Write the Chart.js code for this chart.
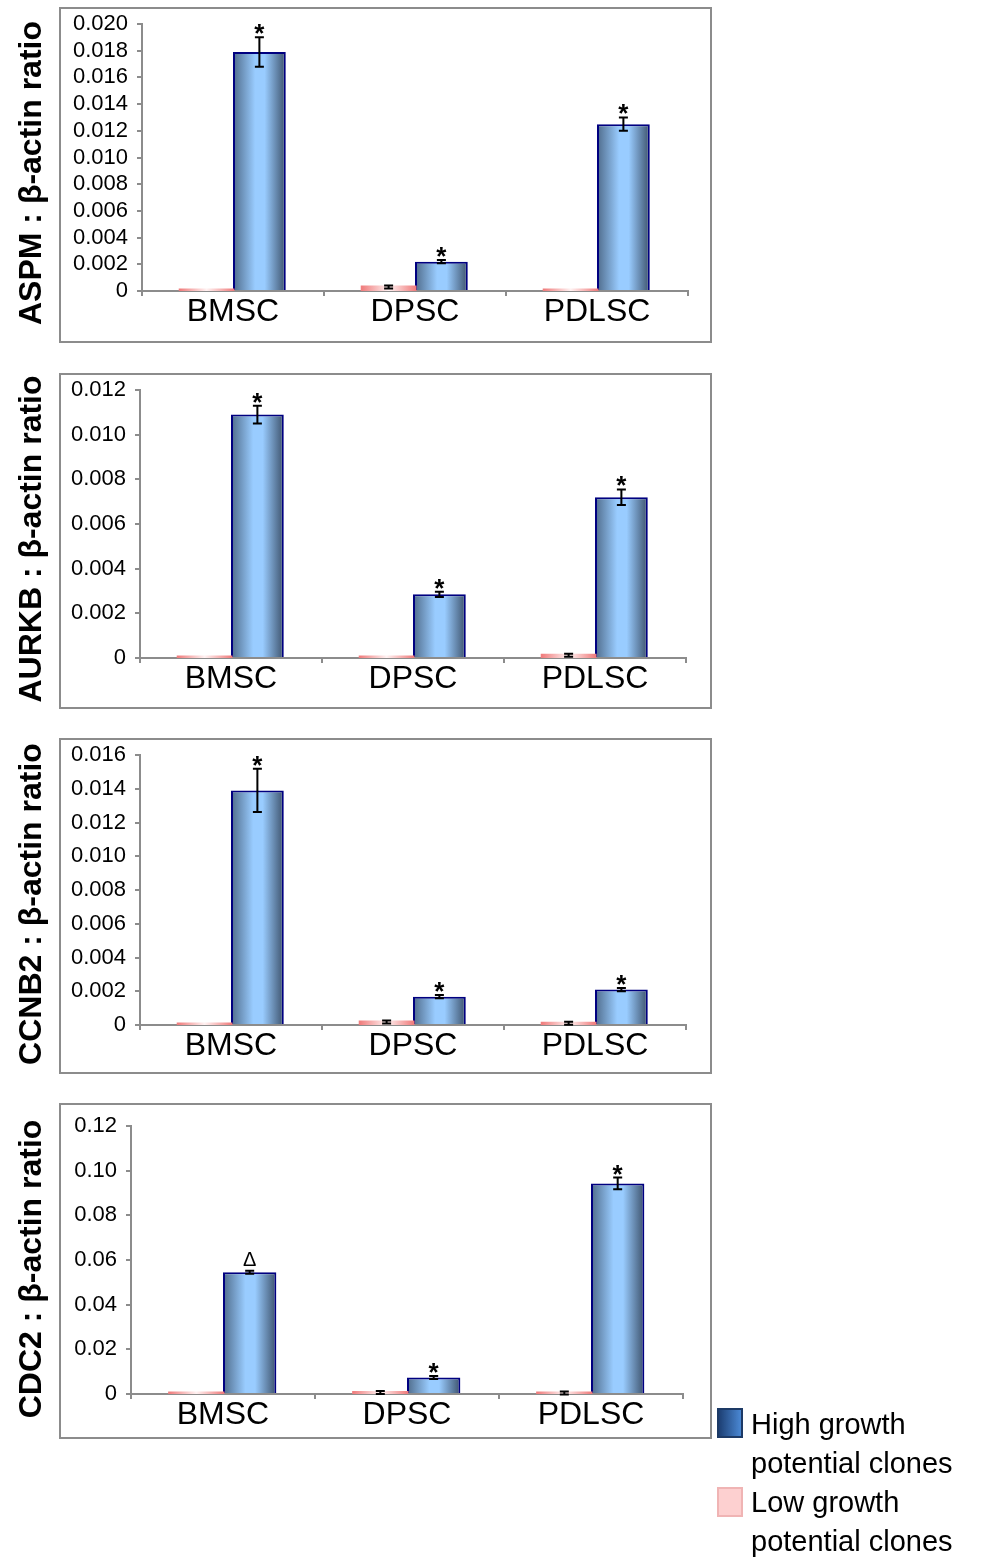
<!DOCTYPE html>
<html>
<head>
<meta charset="utf-8">
<script src="https://cdn.jsdelivr.net/npm/chart.js@4.4.1/dist/chart.umd.min.js"></script>
<style>
  body { margin: 0; background: #fff; width: 990px; height: 1559px; position: relative; font-family: "Liberation Sans", Arial, sans-serif; }
  .panel { position: absolute; left: 0; width: 720px; height: 350px; }
  .legend { position: absolute; left: 717px; top: 1405px; font-size: 29px; line-height: 39px; color: #000; }
  .legend .item { position: relative; padding-left: 34px; }
  .legend .sw { position: absolute; left: 0; width: 22px; height: 26px; }
</style>
</head>
<body>
<div class="panel" style="top:0px"><canvas id="c1" width="720" height="350"></canvas></div>
<div class="panel" style="top:366px"><canvas id="c2" width="720" height="350"></canvas></div>
<div class="panel" style="top:731px"><canvas id="c3" width="720" height="350"></canvas></div>
<div class="panel" style="top:1096px"><canvas id="c4" width="720" height="350"></canvas></div>

<div class="legend">
  <div class="item"><span class="sw" style="top:3px;background:linear-gradient(90deg,#1d3f73,#4a88d4);border:2px solid #1d3a66;"></span>High growth<br>potential clones</div>
  <div class="item"><span class="sw" style="top:4px;background:#fdd0d0;border:2px solid #f0b4b4;"></span>Low growth<br>potential clones</div>
</div>

<script>
var categories = ["BMSC", "DPSC", "PDLSC"];
var seriesNames = ["Low growth potential clones", "High growth potential clones"];

// ASPM
var aspmLow = [0.00005, 0.0003, 0.00005];
var aspmLowErr = [0, 0.00002, 0];
var aspmHigh = [0.0179, 0.0022, 0.0125];
var aspmHighErr = [0.0011, 0.00012, 0.0005];
var aspmTicks = ["0", "0.002", "0.004", "0.006", "0.008", "0.010", "0.012", "0.014", "0.016", "0.018", "0.020"];

// AURKB
var aurkbLow = [0.00002, 0.00002, 0.00012];
var aurkbLowErr = [0, 0, 0.00003];
var aurkbHigh = [0.0109, 0.00285, 0.0072];
var aurkbHighErr = [0.0004, 0.00012, 0.00035];
var aurkbTicks = ["0", "0.002", "0.004", "0.006", "0.008", "0.010", "0.012"];

// CCNB2
var ccnb2Low = [0.00004, 0.00018, 0.0001];
var ccnb2LowErr = [0, 0.00003, 0.00002];
var ccnb2High = [0.0139, 0.00168, 0.0021];
var ccnb2HighErr = [0.00128, 0.0001, 0.0001];
var ccnb2Ticks = ["0", "0.002", "0.004", "0.006", "0.008", "0.010", "0.012", "0.014", "0.016"];

// CDC2
var cdc2Low = [0.0002, 0.0007, 0.0004];
var cdc2LowErr = [0, 0.0002, 0.0001];
var cdc2High = [0.0545, 0.0074, 0.0943];
var cdc2HighErr = [0.0004, 0.0003, 0.0026];
var cdc2Ticks = ["0", "0.02", "0.04", "0.06", "0.08", "0.10", "0.12"];

var sigMarks = ["*", "*", "*"];
var cdc2Marks = ["\u0394", "*", "*"];

var catPct = 0.58;

function barGradient(ctx, isHigh) {
  var chart = ctx.chart;
  var x = chart.scales.x;
  if (!x || !chart.chartArea) return isHigh ? "#99ccff" : "#f9b0b0";
  var center = x.getPixelForValue(ctx.dataIndex);
  var bw = (x.width / categories.length) * catPct / 2;
  var x0 = isHigh ? center : center - bw;
  var g = chart.ctx.createLinearGradient(x0, 0, x0 + bw, 0);
  if (isHigh) {
    g.addColorStop(0, "#4f6b8a");
    g.addColorStop(0.42, "#99ccff");
    g.addColorStop(0.6, "#99ccff");
    g.addColorStop(1, "#3d526c");
  } else {
    g.addColorStop(0, "#f07f7f");
    g.addColorStop(0.5, "#fff2f2");
    g.addColorStop(1, "#f07f7f");
  }
  return g;
}

var boxPlugin = {
  id: "box",
  beforeDraw: function (chart) {
    var c = chart.ctx;
    c.save();
    c.strokeStyle = "#8c8c8c";
    c.lineWidth = 2;
    c.strokeRect(60, 8, 651, 334);
    // y axis title
    c.translate(41, 173);
    c.rotate(-Math.PI / 2);
    c.fillStyle = "#000";
    c.font = "bold 32px 'Liberation Sans', Arial, sans-serif";
    c.textAlign = "center";
    c.textBaseline = "alphabetic";
    c.fillText(chart.options.plugins.box.title, 0, 0);
    c.restore();
  }
};

var errPlugin = {
  id: "errbars",
  afterDatasetsDraw: function (chart) {
    var c = chart.ctx;
    var y = chart.scales.y;
    var opts = chart.options.plugins.errbars;
    c.save();
    c.strokeStyle = "#000";
    c.lineWidth = 2;
    chart.data.datasets.forEach(function (ds, di) {
      var meta = chart.getDatasetMeta(di);
      meta.data.forEach(function (bar, i) {
        var e = ds.err[i];
        var v = ds.data[i];
        var top = y.getPixelForValue(v + e);
        var bot = y.getPixelForValue(Math.max(v - e, 0));
        if (e > 0) {
          if (bot - top < 3) { var mid = (top + bot) / 2; top = mid - 1.5; bot = mid + 1.5; }
          c.beginPath();
          c.moveTo(bar.x, top); c.lineTo(bar.x, bot);
          c.moveTo(bar.x - 4.5, top); c.lineTo(bar.x + 4.5, top);
          c.moveTo(bar.x - 4.5, bot); c.lineTo(bar.x + 4.5, bot);
          c.stroke();
        }
        if (di === 1) {
          var m = opts.marks[i];
          c.fillStyle = "#000";
          c.textAlign = "center";
          c.textBaseline = "alphabetic";
          if (m === "*") {
            c.font = "bold 26px 'Liberation Sans', Arial, sans-serif";
            c.fillText(m, bar.x, top + 5);
          } else {
            c.font = "20px 'Liberation Sans', Arial, sans-serif";
            c.fillText(m, bar.x, top - 5);
          }
        }
      });
    });
    c.restore();
  }
};

function makeChart(id, title, low, lowErr, high, highErr, ticks, maxV, step, marks, geo) {
  return new Chart(document.getElementById(id), {
    type: "bar",
    data: {
      labels: categories,
      datasets: [
        {
          label: seriesNames[0],
          data: low,
          err: lowErr,
          backgroundColor: function (ctx) { return barGradient(ctx, false); },
          borderColor: "#f39a9a",
          borderWidth: 0,
          inflateAmount: 1.5,
          categoryPercentage: catPct,
          barPercentage: 1
        },
        {
          label: seriesNames[1],
          data: high,
          err: highErr,
          backgroundColor: function (ctx) { return barGradient(ctx, true); },
          borderColor: "#000080",
          borderWidth: 2,
          categoryPercentage: catPct,
          barPercentage: 1
        }
      ]
    },
    options: {
      responsive: false,
      animation: false,
      layout: { padding: { top: geo.top, right: 720 - geo.right, bottom: 0, left: 0 } },
      plugins: {
        legend: { display: false },
        tooltip: { enabled: false },
        box: { title: title },
        errbars: { marks: marks }
      },
      scales: {
        x: {
          grid: { drawOnChartArea: false, drawTicks: true, tickLength: 5, color: "#8c8c8c", lineWidth: 2 },
          border: { color: "#8c8c8c", width: 2 },
          ticks: { color: "#000", padding: 0, font: { family: "'Liberation Sans', Arial, sans-serif", size: 32, lineHeight: 1 } },
          afterFit: function (s) { s.height = 350 - geo.bottom; }
        },
        y: {
          min: 0,
          max: maxV,
          grid: { drawOnChartArea: false, drawTicks: true, tickLength: 5, color: "#8c8c8c", lineWidth: 2 },
          border: { color: "#8c8c8c", width: 2 },
          ticks: {
            stepSize: step,
            autoSkip: false,
            color: "#000",
            padding: 9,
            font: { family: "'Liberation Sans', Arial, sans-serif", size: 22 },
            callback: function (v, i) { return ticks[i]; }
          },
          afterFit: function (s) { s.width = geo.axis; }
        }
      }
    },
    plugins: [boxPlugin, errPlugin]
  });
}

makeChart("c1", "ASPM : \u03b2-actin ratio", aspmLow, aspmLowErr, aspmHigh, aspmHighErr, aspmTicks, 0.02, 0.002, sigMarks,
  { top: 24, bottom: 291, axis: 142, right: 688 });
makeChart("c2", "AURKB : \u03b2-actin ratio", aurkbLow, aurkbLowErr, aurkbHigh, aurkbHighErr, aurkbTicks, 0.012, 0.002, sigMarks,
  { top: 24, bottom: 292, axis: 140, right: 686 });
makeChart("c3", "CCNB2 : \u03b2-actin ratio", ccnb2Low, ccnb2LowErr, ccnb2High, ccnb2HighErr, ccnb2Ticks, 0.016, 0.002, sigMarks,
  { top: 24, bottom: 294, axis: 140, right: 686 });
makeChart("c4", "CDC2 : \u03b2-actin ratio", cdc2Low, cdc2LowErr, cdc2High, cdc2HighErr, cdc2Ticks, 0.12, 0.02, cdc2Marks,
  { top: 30, bottom: 298, axis: 131, right: 683 });
</script>
</body>
</html>
